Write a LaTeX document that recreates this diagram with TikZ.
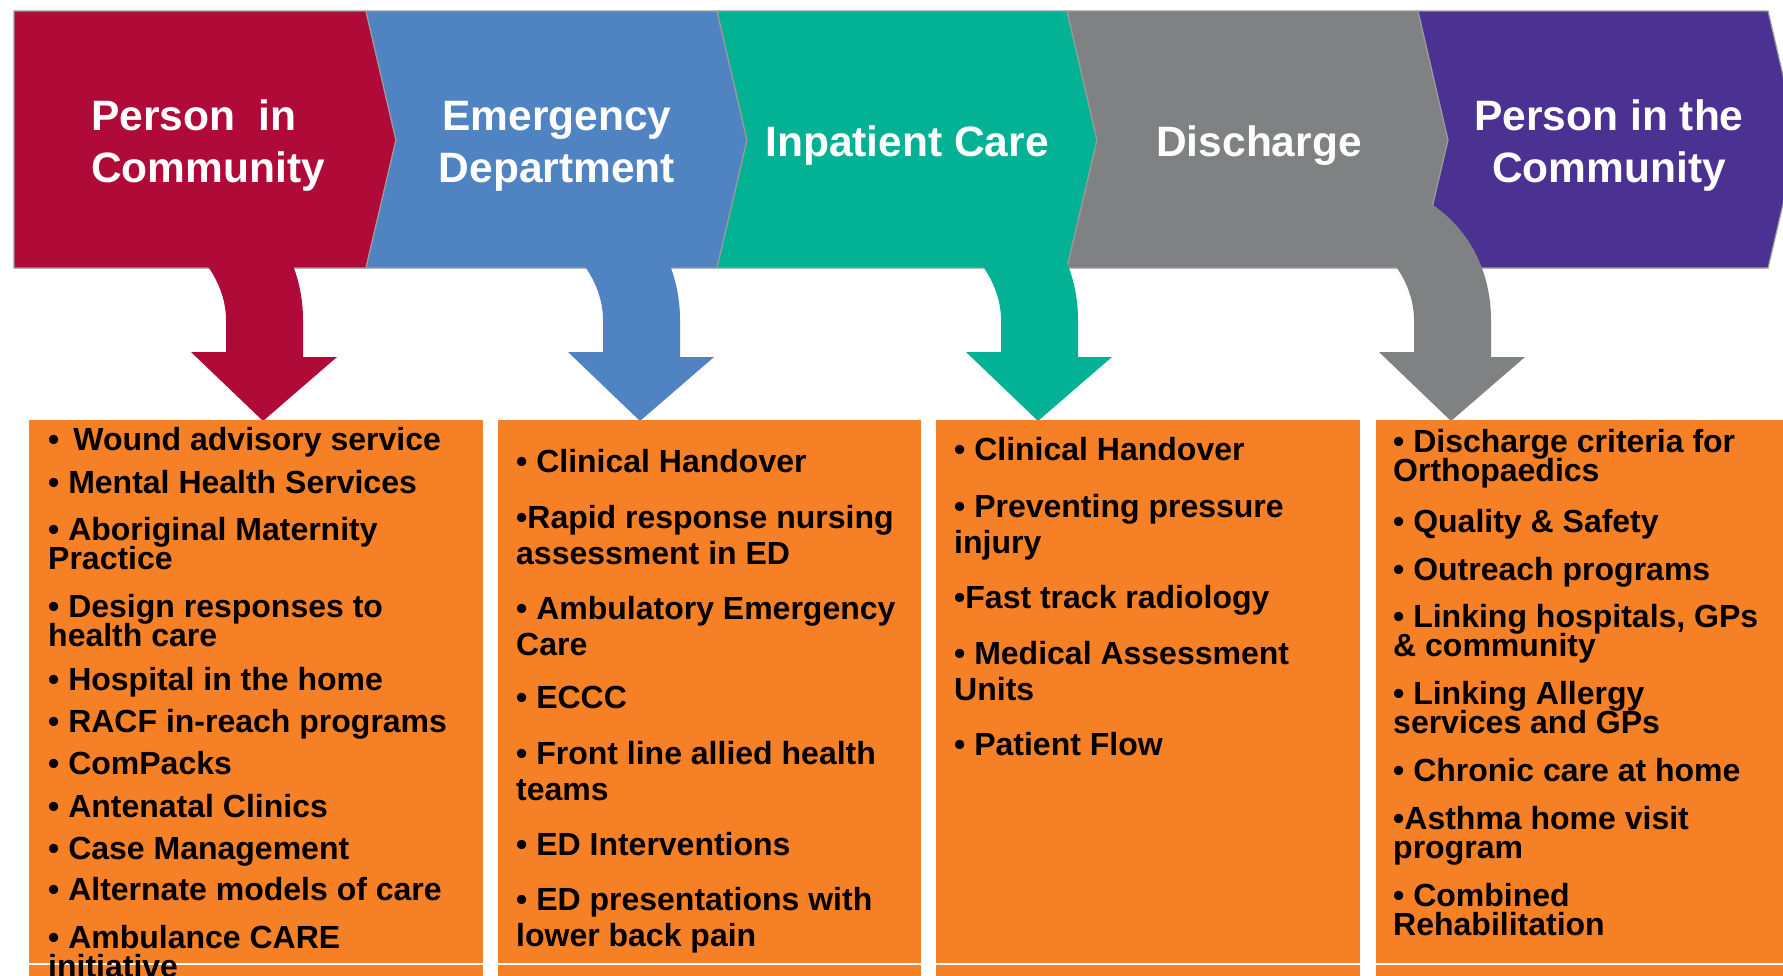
\documentclass[tikz,border=0pt]{standalone}
\usepackage{fontspec}
\setmainfont{Liberation Sans}
\lineskiplimit=-100pt

\definecolor{commred}{HTML}{B00A38}
\definecolor{edblue}{HTML}{5083C1}
\definecolor{wardgreen}{HTML}{03B294}
\definecolor{dischgray}{HTML}{808183}
\definecolor{homepurple}{HTML}{4A3192}
\definecolor{boxorange}{HTML}{F58025}
\definecolor{rimgray}{HTML}{9A9A9A}

\begin{document}
\begin{tikzpicture}[x=1pt,y=-1pt]

\def\chevtop{11}
\def\chevmid{140}
\def\chevbot{268}

\tikzstyle{stage}=[draw=rimgray,line width=1.2pt]
\tikzstyle{heading}=[text=white,inner sep=0pt,font=\fontsize{42.5}{52}\selectfont\bfseries]
\tikzstyle{listbox}=[rectangle,fill=boxorange,anchor=north west,inner sep=0pt,minimum height=560pt]
\tikzstyle{item}=[anchor=base west,align=left,inner sep=0pt,font=\fontsize{32}{29}\selectfont\bfseries]
\tikzstyle{wideitem}=[item,font=\fontsize{32}{36}\selectfont\bfseries]

% bent arrow from a stage down to its list, #1 = x of the tip
\def\bentarrow#1#2{\fill[#2] (#1-100,225) .. controls (#1-60,250) and (#1-37,285) .. (#1-37,320)
  -- (#1-37,352) -- (#1-72,352) -- (#1,421) -- (#1+74,357) -- (#1+40,357) -- (#1+40,320)
  .. controls (#1+40,280) and (#1+25,235) .. (#1-18,205) -- cycle;}

\clip (0,0) rectangle (1783,975);

%stages
\path[stage,fill=commred] (14,\chevtop) -- (366,\chevtop) -- (396,\chevmid) -- (366,\chevbot) -- (14,\chevbot) -- cycle;
\path[stage,fill=edblue] (366,\chevtop) -- (717,\chevtop) -- (747,\chevmid) -- (717,\chevbot) -- (366,\chevbot) -- (396,\chevmid) -- cycle;
\path[stage,fill=wardgreen] (717,\chevtop) -- (1067,\chevtop) -- (1097,\chevmid) -- (1067,\chevbot) -- (717,\chevbot) -- (747,\chevmid) -- cycle;
\path[stage,fill=dischgray] (1067,\chevtop) -- (1418,\chevtop) -- (1448,\chevmid) -- (1418,\chevbot) -- (1067,\chevbot) -- (1097,\chevmid) -- cycle;
\path[stage,fill=homepurple] (1418,\chevtop) -- (1768,\chevtop) -- (1798,\chevmid) -- (1768,\chevbot) -- (1418,\chevbot) -- (1448,\chevmid) -- cycle;

%arrows
\bentarrow{263}{commred}
\bentarrow{640}{edblue}
\bentarrow{1038}{wardgreen}
\bentarrow{1451}{dischgray}

%stage labels (base = last line)
\node[heading,anchor=base west,align=left] (community) at (91,182) {Person~ in\\Community};
\node[heading,anchor=base,align=center] (emergency) at (557,182) {Emergency\\Department};
\node[heading,anchor=base] (inpatient) at (907,156) {Inpatient Care};
\node[heading,anchor=base] (discharge) at (1259,156) {Discharge};
\node[heading,anchor=base,align=center] (home) at (1609,182) {Person in the\\Community};

%lists
\node[listbox,minimum width=454pt] (box1) at (29,420) {};
\node[listbox,minimum width=423pt] (box2) at (498,420) {};
\node[listbox,minimum width=424pt] (box3) at (936,420) {};
\node[listbox,minimum width=420pt] (box4) at (1376,420) {};
\draw[white,line width=1.5pt] (box1.west |- 0,964) -- (box4.east |- 0,964);

% person in community
\node[item] (wound) at (48,450) {•\hspace{14pt}Wound advisory service};
\node[item] (mental) at (48,493) {• Mental Health Services};
\node[item] (aboriginal) at (48,569) {• Aboriginal Maternity\\Practice};
\node[item] (design) at (48,646) {• Design responses to\\health care};
\node[item] (hith) at (48,690) {• Hospital in the home};
\node[item] (racf) at (48,732) {• RACF in-reach programs};
\node[item] (compacks) at (48,774) {• ComPacks};
\node[item] (antenatal) at (48,817) {• Antenatal Clinics};
\node[item] (casemgmt) at (48,859) {• Case Management};
\node[item] (alternate) at (48,900) {• Alternate models of care};
\node[item] (ambulance) at (48,977) {• Ambulance CARE\\initiative};

% emergency department
\node[wideitem] (edhandover) at (516,472) {• Clinical Handover};
\node[wideitem] (rapid) at (516,564) {•Rapid response nursing\\assessment in ED};
\node[wideitem] (ambulatory) at (516,655) {• Ambulatory Emergency\\Care};
\node[wideitem] (eccc) at (516,708) {• ECCC};
\node[wideitem] (frontline) at (516,800) {• Front line allied health\\teams};
\node[wideitem] (edint) at (516,855) {• ED Interventions};
\node[wideitem] (backpain) at (516,946) {• ED presentations with\\lower back pain};

% inpatient care
\node[wideitem] (ichandover) at (954,460) {• Clinical Handover};
\node[wideitem] (pressure) at (954,553) {• Preventing pressure\\injury};
\node[wideitem] (radiology) at (954,608) {•Fast track radiology};
\node[wideitem] (mau) at (954,700) {• Medical Assessment\\Units};
\node[wideitem] (flow) at (954,755) {• Patient Flow};

% discharge
\node[item] (ortho) at (1393,481) {• Discharge criteria for\\Orthopaedics};
\node[item] (quality) at (1393,532) {• Quality \& Safety};
\node[item] (outreach) at (1393,580) {• Outreach programs};
\node[item] (linkgp) at (1393,656) {• Linking hospitals, GPs\\\& community};
\node[item] (allergy) at (1393,733) {• Linking Allergy\\services and GPs};
\node[item] (chronic) at (1393,781) {• Chronic care at home};
\node[item] (asthma) at (1393,858) {•Asthma home visit\\program};
\node[item] (rehab) at (1393,935) {• Combined\\Rehabilitation};

\end{tikzpicture}
\end{document}
